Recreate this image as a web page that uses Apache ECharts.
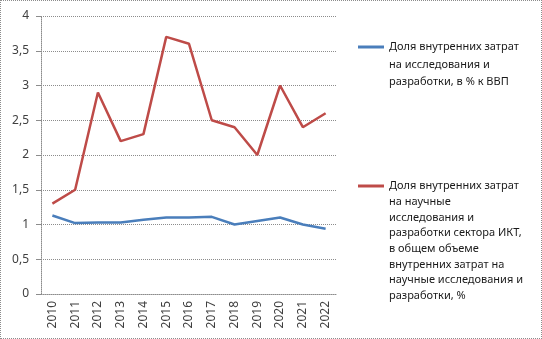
<!DOCTYPE html>
<html>
<head>
<meta charset="utf-8">
<script src="https://cdn.jsdelivr.net/npm/echarts@6/dist/echarts.min.js"></script>
<style>
  html, body { margin: 0; padding: 0; background: #fff; }
  #chart { width: 542px; height: 339px; box-sizing: border-box; border: 1px dotted #8c8c8c; }
</style>
</head>
<body>
<div id="chart"></div>
<script>
// Years on the category axis
const years = ['2010','2011','2012','2013','2014','2015','2016','2017','2018','2019','2020','2021','2022'];

// Share of domestic R&D expenditure in GDP, %
const rdShareGdp = [1.13, 1.02, 1.03, 1.03, 1.07, 1.10, 1.10, 1.11, 1.00, 1.05, 1.10, 1.00, 0.94];

// Share of ICT-sector R&D in total domestic R&D expenditure, %
const ictShareRd = [1.3, 1.5, 2.9, 2.2, 2.3, 3.7, 3.6, 2.5, 2.4, 2.0, 3.0, 2.4, 2.6];

// Series names (legend text)
const nameGdp = 'Доля внутренних затрат\nна исследования и\nразработки, в % к ВВП';
const nameIct = 'Доля внутренних затрат\nна научные\nисследования и\nразработки сектора ИКТ,\nв общем объеме\nвнутренних затрат на\nнаучные исследования и\nразработки, %';

const FONT = 'Noto Sans';
const lines = s => s.split('\n').length;

// Legend entry whose marker sits beside the first text line:
// blank lines are prepended so the vertically centred marker lines up with line one.
function legendFor(name, markerY, lineH) {
  const n = lines(name);
  return {
    data: [name],
    left: 357,
    top: markerY - (2 * n - 1) * lineH / 2,
    orient: 'vertical',
    padding: 0,
    icon: 'rect',
    itemWidth: 26,
    itemHeight: 3,
    itemGap: 0,
    selectedMode: false,
    formatter: s => '\n'.repeat(n - 1) + s,
    textStyle: {
      fontFamily: FONT,
      fontSize: 11,
      color: '#1a1a1a',
      lineHeight: lineH
    }
  };
}

const chart = echarts.init(document.getElementById('chart'), null, { renderer: 'canvas' });
chart.setOption({
  animation: false,
  backgroundColor: '#fff',
  grid: { left: 40, right: 204, top: 15, bottom: 44, containLabel: false },
  legend: [
    legendFor(nameGdp, 46, 17.5),
    legendFor(nameIct, 185, 15.7)
  ],
  xAxis: {
    type: 'category',
    data: years,
    boundaryGap: true,
    axisLine: { lineStyle: { color: '#8c8c8c', type: 'dotted' } },
    axisTick: { length: 4, lineStyle: { color: '#8c8c8c' } },
    axisLabel: { rotate: 90, fontFamily: FONT, fontSize: 12, color: '#404040', margin: 7 }
  },
  yAxis: {
    type: 'value',
    min: 0,
    max: 4,
    interval: 0.5,
    axisLine: { show: true, lineStyle: { color: '#8c8c8c', type: 'dotted' } },
    axisTick: { show: true, length: 5, lineStyle: { color: '#8c8c8c' } },
    splitLine: { lineStyle: { color: '#8c8c8c', type: 'dotted', width: 1 } },
    axisLabel: {
      fontFamily: FONT, fontSize: 12, color: '#404040', margin: 12,
      formatter: v => String(v).replace('.', ',')
    }
  },
  series: [
    {
      name: nameGdp,
      type: 'line',
      data: rdShareGdp,
      symbol: 'none',
      color: '#4a7ebb',
      lineStyle: { width: 2.5, color: '#4a7ebb' }
    },
    {
      name: nameIct,
      type: 'line',
      data: ictShareRd,
      symbol: 'none',
      color: '#be4b48',
      lineStyle: { width: 2.5, color: '#be4b48' }
    }
  ]
});
</script>
</body>
</html>
